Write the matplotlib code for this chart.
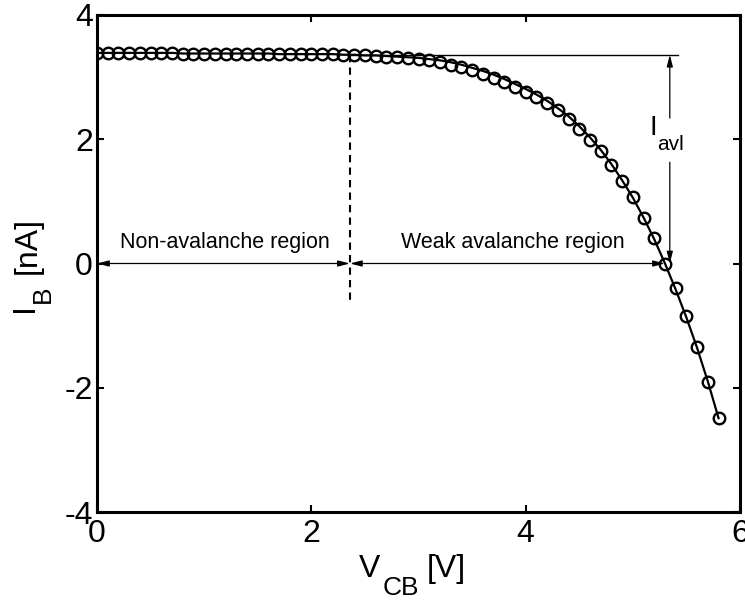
import numpy as np
import matplotlib
matplotlib.use("Agg")
import matplotlib.pyplot as plt

plt.rcParams['font.family'] = ['Liberation Sans', 'DejaVu Sans']
plt.rcParams['axes.unicode_minus'] = False

# Measured base current vs collector-base voltage
v_cb = [0.0, 0.1, 0.2, 0.3, 0.4, 0.5, 0.6, 0.7, 0.8, 0.9,
        1.0, 1.1, 1.2, 1.3, 1.4, 1.5, 1.6, 1.7, 1.8, 1.9,
        2.0, 2.1, 2.2, 2.3, 2.4, 2.5, 2.6, 2.7, 2.8, 2.9,
        3.0, 3.1, 3.2, 3.3, 3.4, 3.5, 3.6, 3.7, 3.8, 3.9,
        4.0, 4.1, 4.2, 4.3, 4.4, 4.5, 4.6, 4.7, 4.8, 4.9,
        5.0, 5.1, 5.2, 5.3, 5.4, 5.5, 5.6, 5.7, 5.8]
i_b_meas = [3.39, 3.39, 3.39, 3.39, 3.39, 3.39, 3.39, 3.39, 3.38, 3.38,
            3.38, 3.38, 3.38, 3.38, 3.38, 3.38, 3.38, 3.37, 3.37, 3.37,
            3.37, 3.37, 3.37, 3.36, 3.36, 3.35, 3.34, 3.33, 3.32, 3.31,
            3.29, 3.27, 3.24, 3.20, 3.16, 3.11, 3.05, 2.99, 2.92, 2.84,
            2.76, 2.68, 2.58, 2.47, 2.33, 2.17, 1.99, 1.81, 1.58, 1.32,
            1.07, 0.74, 0.41, 0.00, -0.39, -0.85, -1.34, -1.91, -2.49]
# Model curve
i_b_model = [3.39, 3.39, 3.39, 3.39, 3.39, 3.39, 3.39, 3.39, 3.38, 3.38,
             3.38, 3.38, 3.38, 3.38, 3.38, 3.38, 3.38, 3.37, 3.37, 3.37,
             3.37, 3.37, 3.37, 3.36, 3.36, 3.35, 3.35, 3.34, 3.33, 3.32,
             3.31, 3.29, 3.27, 3.24, 3.20, 3.15, 3.10, 3.04, 2.97, 2.89,
             2.81, 2.72, 2.62, 2.50, 2.37, 2.21, 2.03, 1.83, 1.60, 1.34,
             1.06, 0.74, 0.39, 0.00, -0.42, -0.87, -1.36, -1.90, -2.49]

v_boundary = 2.36      # end of non-avalanche region
i_ref = 3.36           # reference current level
v_zero = 5.3           # zero crossing
v_avl_arrow = 5.345

W, H = 745, 603
fig = plt.figure(figsize=(W / 100, H / 100), dpi=100)
ax = fig.add_axes([97 / W, 1 - 512 / H, (740 - 97) / W, (512 - 15) / H])

ax.plot(v_cb, i_b_model, color='black', lw=1.6, zorder=3)
ax.plot(v_cb, i_b_meas, linestyle='none', marker='o', ms=8.3, mfc='none',
        mec='black', mew=1.7, zorder=4)

# Region boundary
ax.plot([v_boundary, v_boundary], [i_ref, -0.6], color='black', lw=1.5,
        ls=(0, (3.5, 2.5)), zorder=2)
# Reference level line
ax.plot([v_boundary, 5.42], [i_ref, i_ref], color='black', lw=1.0, zorder=2)

arrow_kw = dict(arrowstyle='<|-|>,head_length=0.7,head_width=0.18',
                color='black', lw=0.9, shrinkA=0, shrinkB=0)
ax.annotate('', xy=(0, 0), xytext=(v_boundary, 0), arrowprops=arrow_kw)
ax.annotate('', xy=(v_boundary, 0), xytext=(v_zero, 0), arrowprops=arrow_kw)

single_kw = dict(arrowstyle='-|>,head_length=0.7,head_width=0.18',
                 color='black', lw=0.9, shrinkA=0, shrinkB=0)
ax.annotate('', xy=(v_avl_arrow, i_ref), xytext=(v_avl_arrow, 2.34),
            arrowprops=single_kw)
ax.annotate('', xy=(v_avl_arrow, 0), xytext=(v_avl_arrow, 1.63),
            arrowprops=single_kw)

ax.text(1.19, 0.33, 'Non-avalanche region', fontsize=15.5, ha='center',
        va='center')
ax.text(3.88, 0.33, 'Weak avalanche region', fontsize=15.5, ha='center',
        va='center')


def px(x, y):
    """Pixel position (from top-left) to figure fraction."""
    return x / W, 1 - y / H


# I_avl label
fig.text(*px(650, 135), 'I', fontsize=20, ha='left', va='baseline')
fig.text(*px(657, 150), 'avl', fontsize=15, ha='left', va='baseline')

# x-axis label: V_CB [V]
fig.text(*px(359, 577), 'V', fontsize=23, ha='left', va='baseline')
fig.text(*px(383, 595), 'CB', fontsize=19, ha='left', va='baseline')
fig.text(*px(427, 577), '[V]', fontsize=23, ha='left', va='baseline')

# y-axis label: I_B [nA]
ykw = dict(rotation=90, rotation_mode='anchor', ha='left', va='baseline')
fig.text(*px(33, 312), 'I', fontsize=23, **ykw)
fig.text(*px(50, 303), 'B', fontsize=19, **ykw)
fig.text(*px(36, 274), '[nA]', fontsize=23, **ykw)

ax.set_xlim(0, 6)
ax.set_ylim(-4, 4)
ax.set_xticks([0, 2, 4, 6])
ax.set_yticks([-4, -2, 0, 2, 4])
ax.tick_params(direction='in', length=5, width=1.5, top=True, right=True,
               labelsize=23)
ax.tick_params(axis='x', pad=5)
ax.tick_params(axis='y', pad=3)
for s in ax.spines.values():
    s.set_linewidth(2.2)

fig.savefig('out.png', dpi=100)
